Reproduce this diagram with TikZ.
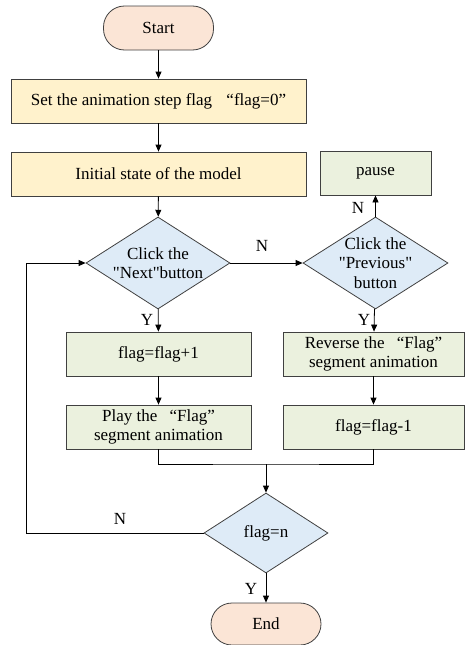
\documentclass[tikz,border=0pt]{standalone}
\usepackage{fontspec}
\setmainfont{Liberation Serif}[Ligatures=TeXOff]
\usetikzlibrary{shapes.geometric,arrows.meta}
\definecolor{peach}{HTML}{FBE5D6}
\definecolor{cream}{HTML}{FFF2CC}
\definecolor{sage}{HTML}{EBF1DE}
\definecolor{skyb}{HTML}{DEEBF7}
\definecolor{edgec}{HTML}{404040}
\begin{document}
\begin{tikzpicture}[x=1pt,y=1pt,
  every node/.style={font=\fontsize{17}{19.5}\selectfont},
  fbase/.style={draw=edgec, line width=0.8pt, inner sep=0pt, align=center},
  term/.style={fbase, fill=peach, rounded corners=21pt, minimum width=110pt, minimum height=44pt},
  ybox/.style={fbase, fill=cream, minimum width=295pt, minimum height=44pt},
  gbox/.style={fbase, fill=sage, minimum height=44pt},
  decis/.style={fbase, fill=skyb, shape=diamond},
  lbl/.style={inner sep=0pt},
  arr/.style={-{Triangle[length=7pt,width=6pt]}, line width=0.8pt},
  ln/.style={line width=0.8pt}]
\useasboundingbox (0,0) rectangle (465,-645);

\node[term] (start) at (158.5,-28) {Start};
\node[ybox] (set) at (158.5,-101) {Set the animation step flag\hspace{10pt} “flag=0”};
\node[ybox] (init) at (158.5,-174) {Initial state of the model};
\node[gbox, minimum width=111pt] (pause) at (375.5,-173) {pause};

\node[decis, minimum width=144pt, minimum height=92pt] (next) at (158,-263) {};
\node[lbl, align=center] (nextT) at (next.center) {Click the\\"Next"button};
\node[decis, minimum width=145pt, minimum height=92pt] (prev) at (375.5,-263) {};
\node[lbl, align=center] (prevT) at (prev.center) {Click the\\"Previous"\\button};

\node[gbox, minimum width=185pt] (inc) at (158.5,-354) {flag=flag+1};
\node[gbox, minimum width=185pt] (play) at (158.5,-427) {Play the\hspace{8pt} “Flag”\\segment animation};
\node[gbox, minimum width=181pt] (rev) at (373.5,-354) {Reverse the\hspace{8pt} “Flag”\\segment animation};
\node[gbox, minimum width=181pt] (decr) at (373.5,-427) {flag=flag-1};

\node[decis, minimum width=124pt, minimum height=80pt] (check) at (266,-533) {};
\node[lbl] (checkT) at (check.center) {flag=n};
\node[term, minimum height=42pt] (end) at (266,-624) {End};

\coordinate (merge) at (266,-464);
\coordinate (loopb) at (26,-533);
\coordinate (loopt) at (26,-263);

\draw[arr] (start) -- (set);
\draw[arr] (set) -- (init);
\draw[arr] (init) -- (next);
\draw[arr] (next) -- (prev);
\draw[arr] (prev) -- (pause);
\draw[arr] (next) -- (inc);
\draw[arr] (inc) -- (play);
\draw[arr] (prev) -- (rev);
\draw[arr] (rev) -- (decr);
\draw[ln] (play.south) |- (merge) -| (decr.south);
\draw[arr] (merge) -- (check);
\draw[arr] (check.west) -- (loopb) -- (loopt) -- (next.west);
\draw[arr] (check) -- (end);

\node[lbl] (nN1) at (262,-246) {N};
\node[lbl] (nN2) at (358,-208) {N};
\node[lbl] (nY1) at (147,-320) {Y};
\node[lbl] (nY2) at (364,-320) {Y};
\node[lbl] (nN3) at (120,-519) {N};
\node[lbl] (nY3) at (251,-589) {Y};
\end{tikzpicture}
\end{document}
